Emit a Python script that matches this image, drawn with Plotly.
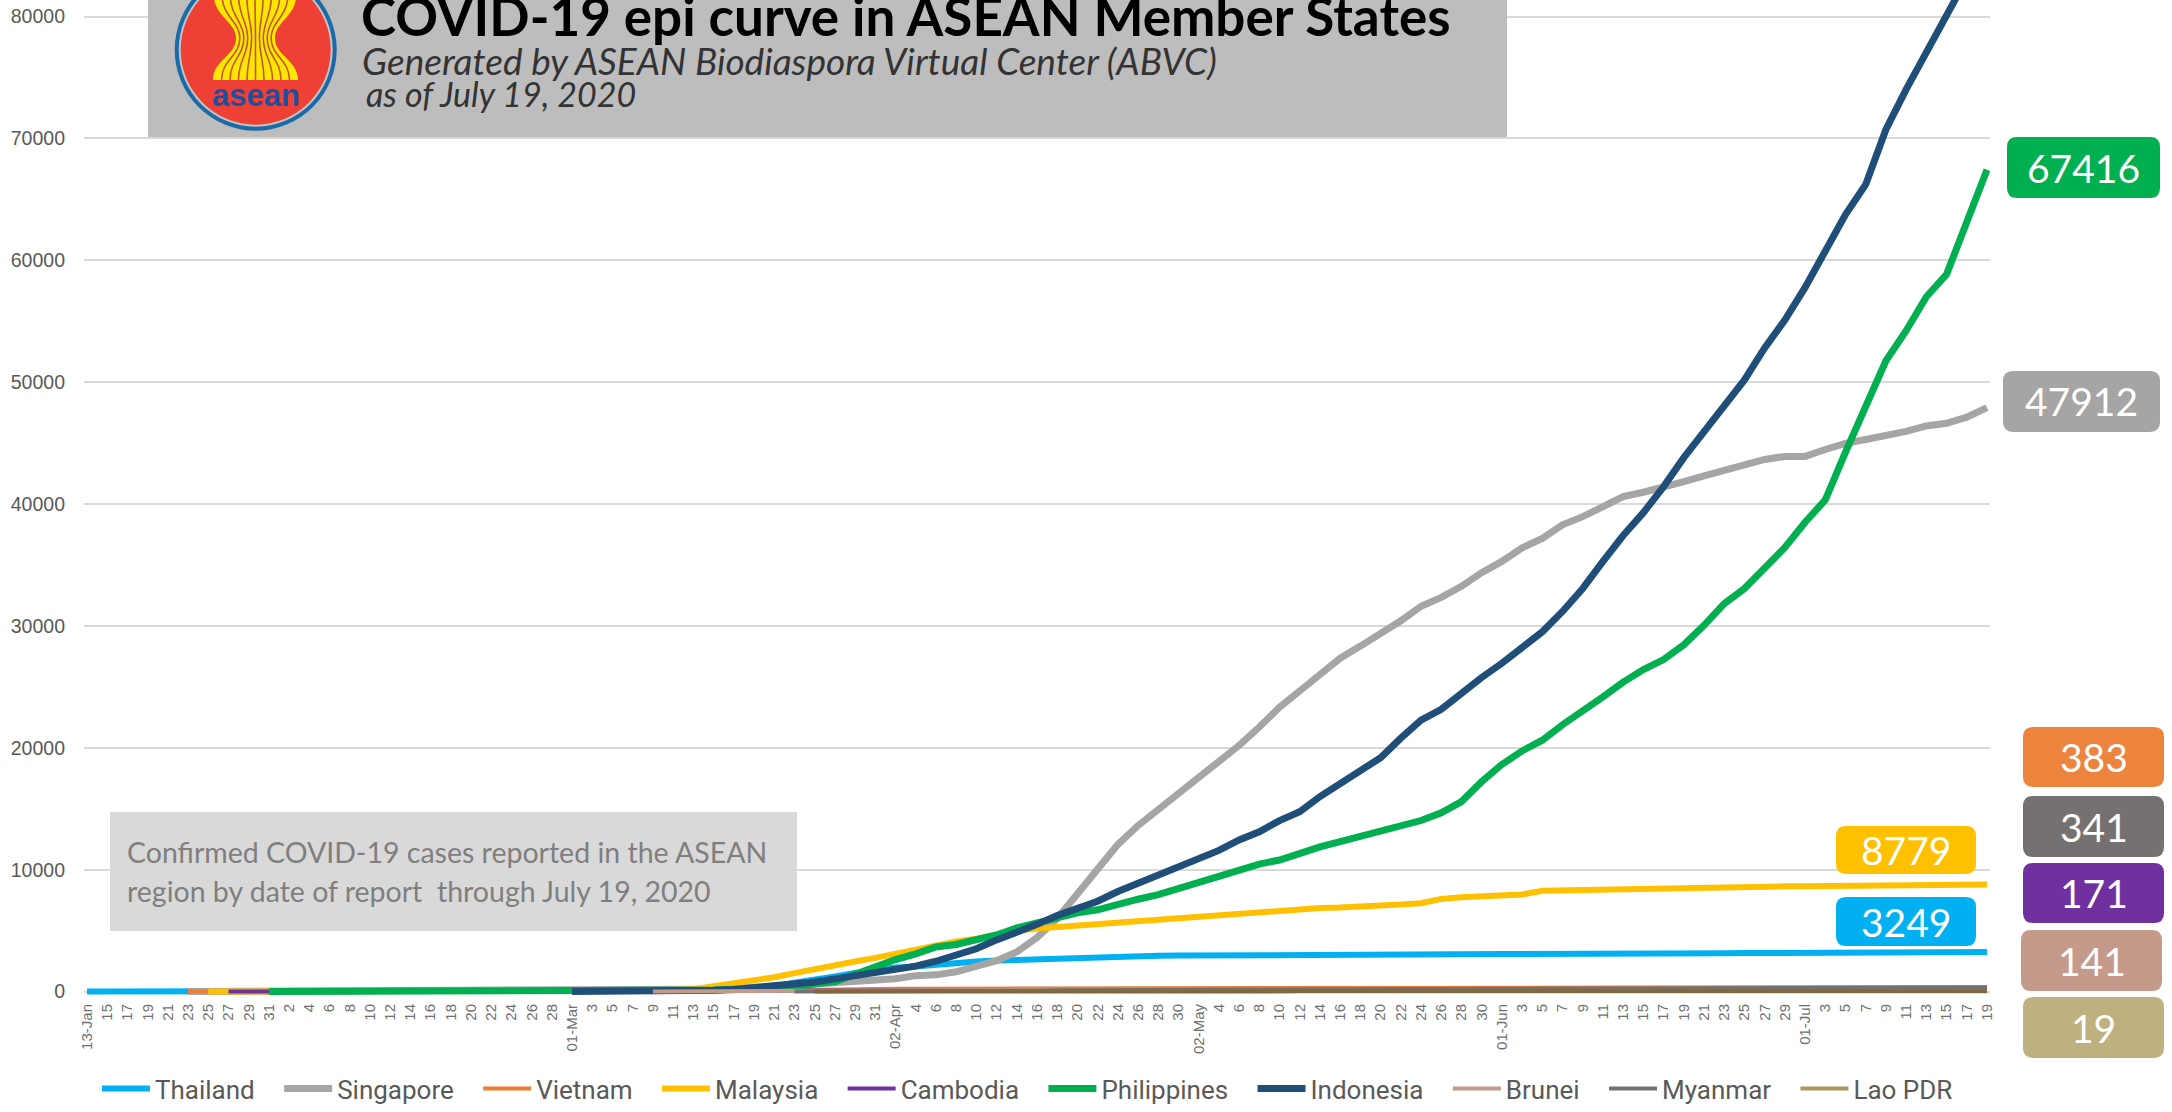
import pandas as pd
import plotly.graph_objects as go

W, H = 2172, 1112

dates = pd.date_range("2020-01-13", periods=95, freq="2D")
tick_labels = ["13-Jan","15","17","19","21","23","25","27","29","31",
  "2","4","6","8","10","12","14","16","18","20","22","24","26","28",
  "01-Mar","3","5","7","9","11","13","15","17","19","21","23","25","27","29","31",
  "02-Apr","4","6","8","10","12","14","16","18","20","22","24","26","28","30",
  "02-May","4","6","8","10","12","14","16","18","20","22","24","26","28","30",
  "01-Jun","3","5","7","9","11","13","15","17","19","21","23","25","27","29",
  "01-Jul","3","5","7","9","11","13","15","17","19"]
y_ticks = [0,10000,20000,30000,40000,50000,60000,70000,80000]

thailand = [1,1,2,2,4,4,7,8,14,19,19,25,25,32,32,33,34,34,35,35,35,37,40,41,
  42,43,47,50,50,59,75,114,177,272,411,721,934,1245,1524,1771,
  1978,2067,2220,2369,2473,2551,2613,2672,2700,2792,2826,2854,2922,2938,2954,
  2969,2987,2989,3000,3009,3017,3018,3025,3031,3037,3040,3042,3045,3065,3077,
  3081,3084,3102,3112,3125,3125,3134,3135,3135,3146,3151,3156,3158,3162,3169,
  3173,3182,3185,3197,3202,3217,3220,3226,3236,3249]
singapore = [None]*5 + [1,3,5,7,16,18,24,30,40,45,50,67,75,81,85,89,90,93,96,
  106,110,117,138,150,178,200,226,266,345,432,509,631,732,844,926,
  1049,1309,1375,1623,2108,2532,3252,4427,5992,8014,10141,12075,13624,14951,16169,
  17548,18778,20198,21707,23336,24671,26098,27356,28343,29364,30426,31616,32343,33249,34366,
  35292,36405,37183,38296,38965,39850,40604,40969,41473,41833,42313,42736,43246,43661,43907,
  43907,44479,44983,45298,45614,45961,46406,46630,47126,47912]
vietnam = [None]*5 + [2,2,2,2,5,7,10,12,13,14,15,16,16,16,16,16,16,16,16,
  16,16,16,18,31,39,53,61,66,85,94,123,141,163,188,207,
  227,240,245,251,257,262,265,268,268,268,268,268,270,270,270,
  270,271,271,288,288,288,288,314,320,324,324,325,327,327,328,
  328,328,328,331,332,333,334,334,335,342,349,349,352,355,355,
  355,355,355,369,369,372,373,381,383,383]
malaysia = [None]*6 + [3,4,7,8,8,10,12,16,18,18,19,22,22,22,22,22,22,23,
  29,36,50,83,99,129,197,428,673,900,1183,1518,1796,2161,2470,2766,
  3116,3483,3793,4119,4346,4683,4987,5182,5305,5425,5532,5691,5780,5851,5945,
  6071,6298,6428,6535,6656,6742,6855,6894,6941,7009,7137,7245,7604,7732,7819,
  7857,7970,8266,8303,8336,8369,8445,8494,8515,8556,8572,8590,8606,8616,8639,
  8640,8648,8668,8674,8683,8704,8725,8755,8766,8779]
cambodia = [None]*7 + [1,1,1,1,1,1,1,1,1,1,1,1,1,1,1,1,1,
  1,1,1,1,2,3,5,12,33,47,53,84,91,99,103,109,
  110,114,115,117,119,122,122,122,122,122,122,122,122,122,122,
  122,122,122,122,122,122,122,122,122,122,124,124,124,125,125,
  125,125,126,126,128,128,129,129,130,130,130,130,130,133,141,
  141,141,141,141,141,156,165,166,171,171]
philippines = [None]*9 + [1,2,3,3,3,3,3,3,3,3,3,3,3,3,3,
  3,3,5,6,24,49,64,140,187,217,307,396,636,803,1418,2084,
  2633,3094,3660,3870,4195,4648,5223,5660,6087,6459,6710,7192,7579,7958,8488,
  8928,9485,10004,10463,10794,11350,11876,12305,12718,13221,13597,14035,14669,15588,17224,
  18638,19748,20626,21895,22992,24175,25392,26420,27238,28459,30052,31825,33069,34803,36438,
  38511,40336,44254,47873,51754,54222,57006,58850,63001,67416]
indonesia = [None]*24 + [2,2,2,4,19,34,69,117,172,309,450,579,790,1046,1285,1528,
  1790,2092,2491,2956,3512,4241,4839,5516,6248,6760,7418,8211,8882,9511,10118,
  10843,11587,12438,13112,14032,14749,16006,17025,18010,19189,20796,22271,23165,24538,25773,
  26940,28233,29521,31186,33076,35295,37420,39294,41431,43803,45891,47896,50187,52812,55092,
  57770,60695,63749,66226,70736,74018,76981,80094,83130,86521]
brunei = [None]*28 + [1,11,50,56,75,78,88,91,104,115,120,129,
  131,135,135,135,136,136,136,136,138,138,138,138,138,138,138,
  138,139,141,141,141,141,141,141,141,141,141,141,141,141,141,
  141,141,141,141,141,141,141,141,141,141,141,141,141,141,141,
  141,141,141,141,141,141,141,141,141,141]
myanmar = [None]*35 + [2,3,8,10,14,
  20,21,22,22,27,41,62,74,111,119,127,144,146,150,151,
  155,161,176,178,180,181,182,184,191,199,201,203,206,207,224,
  228,233,236,244,261,262,262,263,279,290,291,292,292,299,300,
  303,316,317,317,321,331,336,339,340,341]
lao = [None]*36 + [2,6,8,9,
  10,10,12,16,19,19,19,19,19,19,19,19,19,19,19,
  19,19,19,19,19,19,19,19,19,19,19,19,19,19,19,
  19,19,19,19,19,19,19,19,19,19,19,19,19,19,19,
  19,19,19,19,19,19,19,19,19,19]

series = [("Thailand", thailand, "#00B0F0", 6),
          ("Singapore", singapore, "#A5A5A5", 7),
          ("Vietnam", vietnam, "#ED7D31", 4),
          ("Malaysia", malaysia, "#FFC000", 6),
          ("Cambodia", cambodia, "#7030A0", 4),
          ("Philippines", philippines, "#00B050", 7),
          ("Indonesia", indonesia, "#1F4E79", 7),
          ("Brunei", brunei, "#C49A8A", 4),
          ("Myanmar", myanmar, "#767171", 4)]
for name, vals, *_ in series:
    assert len(vals) == 95, (name, len(vals))
assert len(lao) == 95 and len(tick_labels) == 95

badges = [("67416", 2007, 2160, 137, 198, "#00B050"),
          ("47912", 2003, 2160, 371, 432, "#A5A5A5"),
          ("383", 2023, 2164, 727, 787, "#ED843E"),
          ("341", 2023, 2164, 796, 857, "#767171"),
          ("171", 2023, 2164, 863, 923, "#7030A0"),
          ("141", 2021, 2162, 930, 991, "#C49A8A"),
          ("19", 2023, 2164, 997, 1058, "#BFB07F"),
          ("8779", 1836, 1976, 826, 874, "#FFC000"),
          ("3249", 1836, 1976, 897, 946, "#00B0F0")]

def px(x): return x / W
def py(y): return 1 - y / H

def path_pts(d):
    out = []
    for cmd, pts in d:
        out.append(cmd + " ".join(f"{px(a):.5f},{py(b):.5f}" for a, b in pts))
    return " ".join(out)

def round_rect(x0, x1, y0, y1, r=10):
    return path_pts([("M", [(x0+r, y0)]), ("L", [(x1-r, y0)]), ("Q", [(x1, y0), (x1, y0+r)]),
                     ("L", [(x1, y1-r)]), ("Q", [(x1, y1), (x1-r, y1)]),
                     ("L", [(x0+r, y1)]), ("Q", [(x0, y1), (x0, y1-r)]),
                     ("L", [(x0, y0+r)]), ("Q", [(x0, y0), (x0+r, y0)])]) + " Z"

shapes, ann = [], []
def rect(x0, x1, y0, y1, color):
    shapes.append(dict(type="rect", xref="paper", yref="paper", x0=px(x0), x1=px(x1),
                       y0=py(y1), y1=py(y0), fillcolor=color, line_width=0, layer="above"))
def circle(cx, cy, r, color):
    shapes.append(dict(type="circle", xref="paper", yref="paper", x0=px(cx-r), x1=px(cx+r),
                       y0=py(cy+r), y1=py(cy-r), fillcolor=color, line_width=0, layer="above"))
def text(x, y, s, size, color, family, xanchor="left", bold=False, italic=False):
    ann.append(dict(xref="paper", yref="paper", x=px(x), y=py(y), text=s, showarrow=False,
                    xanchor=xanchor, yanchor="middle", align=xanchor, borderpad=0,
                    font=dict(size=size, color=color, family=family,
                              weight="bold" if bold else "normal",
                              style="italic" if italic else "normal")))

rect(148, 1507, 0, 137, "#BDBDBD")
cx, cy = 255.7, 49.7
circle(cx, cy, 81, "#1B6AA8")
circle(cx, cy, 77, "#C4C4C4")
circle(cx, cy, 75, "#EE4035")
n = 10
def stalk(k):
    t = k / n
    return (213 + 85*t, 236 + 39*t, 214 + 82*t)
l = stalk(0); r_ = stalk(n)
shapes.append(dict(type="path", xref="paper", yref="paper", layer="above", fillcolor="#FFE600", line_width=0,
    path=path_pts([("M", [(l[0], 80)]), ("C", [(l[0], 60), (l[1], 56), (l[1], 38)]),
                   ("C", [(l[1], 22), (l[2], 16), (l[2], -4)]), ("L", [(r_[2], -4)]),
                   ("C", [(r_[2], 16), (r_[1], 22), (r_[1], 38)]),
                   ("C", [(r_[1], 56), (r_[0], 60), (r_[0], 80)])]) + " Z"))
for k in range(1, n):
    b, w, t = stalk(k)
    shapes.append(dict(type="path", xref="paper", yref="paper", layer="above",
        line=dict(color="#C2562A", width=1.6),
        path=path_pts([("M", [(b, 80)]), ("C", [(b, 60), (w, 56), (w, 38)]),
                       ("C", [(w, 22), (t, 16), (t, -4)])])))
text(cx, 95, "asean", 31, "#1E4F9E", "Liberation Sans", "center", bold=True)

text(360, 15, "COVID-19 epi curve in ASEAN Member States", 53, "#000000", "Lato", bold=True)
text(361, 60, "Generated by ASEAN Biodiaspora Virtual Center (ABVC)", 37, "#333333", "Lato", italic=True)
text(365, 93, "as of July 19, 2020", 34, "#333333", "Lato", italic=True)

rect(110, 797, 812, 931, "#D9D9D9")
text(126, 852, "Confirmed COVID-19 cases reported in the ASEAN", 28.5, "#7F7F7F", "Lato")
text(126, 891, "region by date of report  through July 19, 2020", 28.5, "#7F7F7F", "Lato")

for s, x0, x1, y0, y1, c in badges:
    shapes.append(dict(type="path", xref="paper", yref="paper", layer="above", fillcolor=c,
                       line_width=0, path=round_rect(x0, x1, y0, y1)))
    text((x0+x1)/2, (y0+y1)/2, s, 39, "#FFFFFF", "Lato", "center")

pad = "\u00a0\u00a0\u00a0"
fig = go.Figure()
for name, vals, color, width in series:
    fig.add_trace(go.Scatter(x=dates, y=vals, mode="lines", name=name + pad,
                             line=dict(color=color, width=width), connectgaps=False))
fig.add_trace(go.Scatter(x=dates, y=lao, mode="lines", name="Lao PDR", showlegend=False,
                         line=dict(color="#7E6A3A", width=4)))
fig.add_trace(go.Scatter(x=[None], y=[None], mode="lines", name="Lao PDR",
                         line=dict(color="#A99860", width=4)))

px_per_unit = (991.6 - 16.5) / 80000
x_left, x_right, y_bottom = 84, 1990, 1000
day_px = (1987 - 87) / 188
xr = [dates[0] + pd.Timedelta(days=(x_left-87)/day_px), dates[-1] + pd.Timedelta(days=(x_right-1987)/day_px)]
yr = [(991.6 - y_bottom)/px_per_unit, 991.6/px_per_unit]

fig.update_layout(
    width=W, height=H, autosize=False, margin=dict(l=0, r=0, t=0, b=0, pad=0),
    paper_bgcolor="#FFFFFF", plot_bgcolor="#FFFFFF",
    font=dict(family="Liberation Sans", color="#595959"),
    shapes=shapes, annotations=ann,
    xaxis=dict(type="date", domain=[px(x_left), px(x_right)], range=xr, tickmode="array",
               tickvals=list(dates), ticktext=tick_labels, tickangle=-90, showgrid=False,
               zeroline=False, showline=False, ticks="", automargin=False,
               tickfont=dict(size=15, color="#707070", family="Liberation Sans")),
    yaxis=dict(domain=[py(y_bottom), 1], range=yr, tickmode="array", tickvals=y_ticks,
               ticktext=[str(v) for v in y_ticks], showgrid=True, gridcolor="#D9D9D9", gridwidth=1.5,
               zeroline=False, showline=False, ticks="", automargin=False, ticklabelstandoff=18,
               tickfont=dict(size=19.5, color="#595959", family="Liberation Sans")),
    legend=dict(orientation="h", x=px(97), y=0, xanchor="left", yanchor="bottom",
                itemwidth=48, bgcolor="rgba(0,0,0,0)", traceorder="normal",
                font=dict(size=26, color="#595959", family="Roboto")),
    showlegend=True,
)
fig.write_html("out.html", config={"displayModeBar": False},
               post_script="document.body.style.margin='0';document.body.style.overflow='hidden';")
